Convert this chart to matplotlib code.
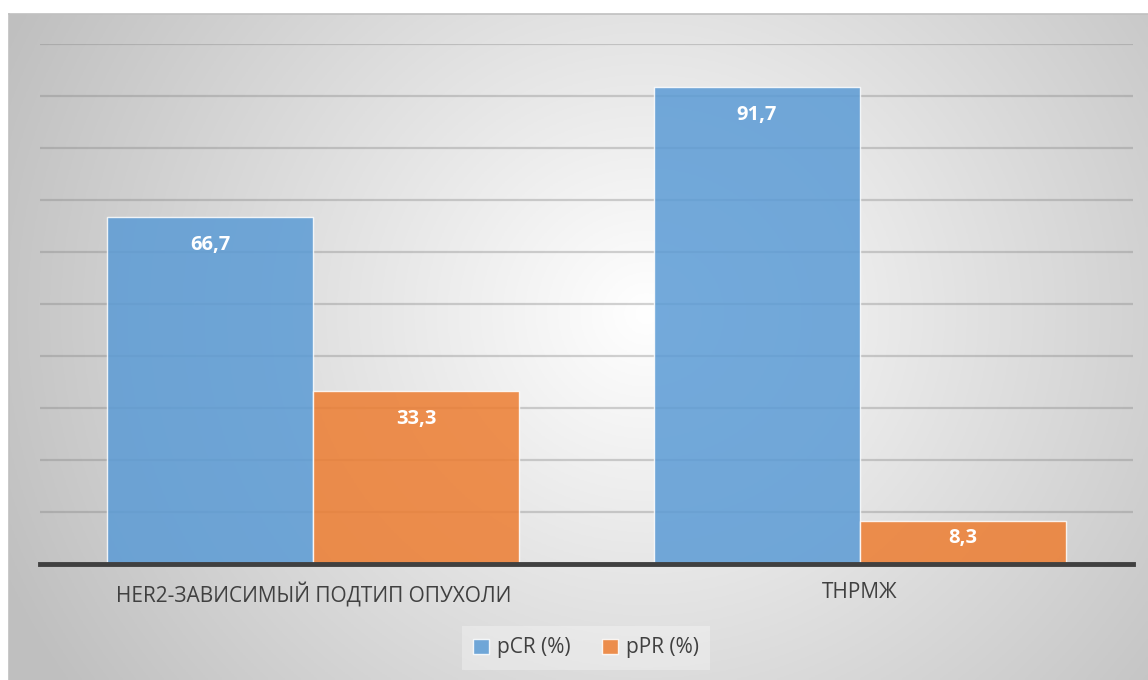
import matplotlib.pyplot as plt
import numpy as np

# data
categories = ['HER2-ЗАВИСИМЫЙ ПОДТИП ОПУХОЛИ', 'ТНРМЖ']
pcr = [66.7, 91.7]
ppr = [33.3, 8.3]
series_names = ['pCR (%)', 'pPR (%)']
colors = ['#5B9BD5', '#ED7D31']

plt.rcParams['font.family'] = ['Open Sans', 'DejaVu Sans']

W, H = 1148, 680
fig = plt.figure(figsize=(W / 100, H / 100), dpi=100)
fig.patch.set_facecolor('white')

# radial gradient background of the chart area
bg = fig.add_axes([9 / W, 0, 1 - 9 / W, 1 - 14 / H])
gx, gy = np.meshgrid(np.linspace(0, 1, 400), np.linspace(0, 1, 240))
cx, cy = 0.56, 0.45
r = np.sqrt(((gx - cx) * 1.0) ** 2 + ((gy - cy) * 0.62) ** 2)
r = np.clip(r / 0.62, 0, 1)
shade = 1.0 - 0.25 * r
bg.imshow(np.dstack([shade] * 3), extent=[0, 1, 0, 1], aspect='auto', origin='upper')
bg.set_xlim(0, 1)
bg.set_ylim(0, 1)
for side in ['right', 'bottom']:
    bg.spines[side].set_visible(False)
for side in ['top', 'left']:
    bg.spines[side].set_color('#c0c0c0')
    bg.spines[side].set_linewidth(1.2)
bg.set_xticks([])
bg.set_yticks([])

ax = fig.add_axes([40 / W, (H - 564) / H, (1133 - 40) / W, (564 - 44) / H])
ax.patch.set_alpha(0)

x = np.arange(len(categories))
width = 0.377
ax.set_xlim(-0.5, len(categories) - 0.5)
ax.set_ylim(0, 100)

for y in np.arange(10, 101, 10):
    ax.axhline(y, color='#808080', alpha=0.35, linewidth=1.6, zorder=1)

for i, (vals, col) in enumerate(zip([pcr, ppr], colors)):
    pos = x - width / 2 + i * width
    bars = ax.bar(pos, vals, width, color=col, alpha=0.85, edgecolor=(1, 1, 1, 0.5),
                  linewidth=1.0, label=series_names[i], zorder=2)
    for b, v in zip(bars, vals):
        off = min(5.4, v * 0.4)
        ax.text(b.get_x() + b.get_width() / 2, v - off, f'{v:.1f}'.replace('.', ','),
                ha='center', va='center', color='white', fontsize=14.5, fontweight='bold', zorder=3)

ax.axhline(0, color='#404040', linewidth=3.5, zorder=4, clip_on=False)

ax.set_yticks([])
ax.set_xticks(x)
ax.set_xticklabels(categories, fontsize=15, color='#404040')
ax.tick_params(axis='x', length=0, pad=13)
for s in ax.spines.values():
    s.set_visible(False)

leg = fig.legend(loc='center', bbox_to_anchor=(586 / W, 1 - 648 / H), ncol=2, frameon=True,
                 fontsize=15, handlelength=0.75, handleheight=0.75, handletextpad=0.4,
                 columnspacing=1.5, borderpad=0.55, fancybox=False)
leg.get_frame().set_facecolor('white')
leg.get_frame().set_alpha(0.3)
leg.get_frame().set_edgecolor('none')
for t in leg.get_texts():
    t.set_color('#404040')

fig.savefig('out.png', dpi=100)
